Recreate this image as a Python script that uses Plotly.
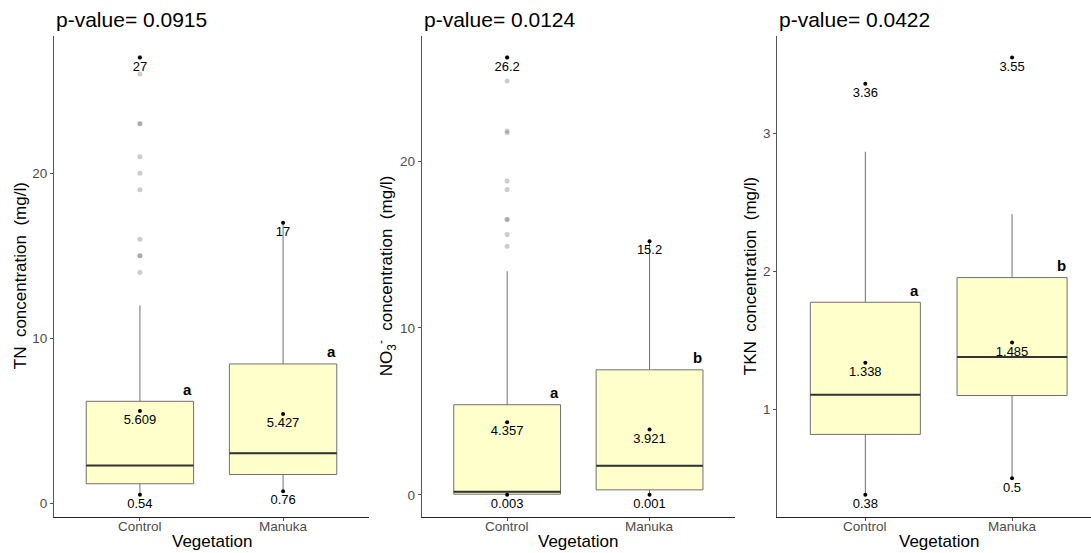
import plotly.graph_objects as go

FONT = "Liberation Sans, Arial, Helvetica, sans-serif"

categories = ["Control", "Manuka"]

# ---- Panel 1: TN ----
tn_q1 = [1.21, 1.77]
tn_median = [2.31, 3.06]
tn_q3 = [6.2, 8.46]
tn_lower = [0.54, 0.76]
tn_upper = [12.0, 17.0]
tn_mean = [5.609, 5.427]
tn_min = [0.54, 0.76]
tn_max = [27, 17]
tn_outliers_control = [27, 26, 23, 23, 21, 20, 19, 16, 15, 15, 14]
tn_outliers_manuka = []
tn_letters = ["a", "a"]
tn_p = "0.0915"

# ---- Panel 2: NO3 ----
no3_q1 = [0.04, 0.30]
no3_median = [0.18, 1.74]
no3_q3 = [5.40, 7.49]
no3_lower = [0.003, 0.001]
no3_upper = [13.4, 15.2]
no3_mean = [4.357, 3.921]
no3_min = [0.003, 0.001]
no3_max = [26.2, 15.2]
no3_outliers_control = [26.2, 24.8, 21.7, 21.8, 18.8, 18.3, 16.5, 16.5, 15.6, 14.9]
no3_outliers_manuka = []
no3_letters = ["a", "b"]
no3_p = "0.0124"

# ---- Panel 3: TKN ----
tkn_q1 = [0.818, 1.10]
tkn_median = [1.106, 1.38]
tkn_q3 = [1.776, 1.955]
tkn_lower = [0.38, 0.5]
tkn_upper = [2.867, 2.415]
tkn_mean = [1.338, 1.485]
tkn_min = [0.38, 0.5]
tkn_max = [3.36, 3.55]
tkn_outliers_control = []
tkn_outliers_manuka = []
tkn_letters = ["a", "b"]
tkn_p = "0.0422"

panels = [
    dict(q1=tn_q1, med=tn_median, q3=tn_q3, lo=tn_lower, hi=tn_upper, mean=tn_mean,
         mn=tn_min, mx=tn_max, out=[tn_outliers_control, tn_outliers_manuka],
         letters=tn_letters, p=tn_p, ytitle="TN\u00a0 concentration\u00a0 (mg/l)",
         dtick=10, xdom=[54, 369], xr=[-0.6, 1.6], ytx=20),
    dict(q1=no3_q1, med=no3_median, q3=no3_q3, lo=no3_lower, hi=no3_upper, mean=no3_mean,
         mn=no3_min, mx=no3_max, out=[no3_outliers_control, no3_outliers_manuka],
         letters=no3_letters, p=no3_p,
         ytitle="NO<sub>3</sub><sup>-</sup>\u00a0 concentration\u00a0 (mg/l)",
         dtick=10, xdom=[421.7, 735], xr=[-0.6, 1.6], ytx=386),
    dict(q1=tkn_q1, med=tkn_median, q3=tkn_q3, lo=tkn_lower, hi=tkn_upper, mean=tkn_mean,
         mn=tkn_min, mx=tkn_max, out=[tkn_outliers_control, tkn_outliers_manuka],
         letters=tkn_letters, p=tkn_p, ytitle="TKN\u00a0 concentration\u00a0 (mg/l)",
         dtick=1, xdom=[777.3, 1091], xr=[-0.6, 1.538], ytx=750),
]

W, H = 1091, 553
ytop, ybot = 35.7, 516.7
ydom = [1 - ybot / H, 1 - ytop / H]
BOXW = 0.75
pos = [0, 1]

fig = go.Figure()
annotations = []

for i, p in enumerate(panels, start=1):
    xa = "x" if i == 1 else f"x{i}"
    ya = "y" if i == 1 else f"y{i}"
    # box
    fig.add_trace(go.Box(
        x=pos, q1=p["q1"], median=p["med"], q3=p["q3"],
        lowerfence=p["lo"], upperfence=p["hi"], width=BOXW,
        fillcolor="#FFFFCC", line=dict(color="#707070", width=1),
        whiskerwidth=0, boxpoints=False, showlegend=False, hoverinfo="skip",
        xaxis=xa, yaxis=ya))
    # median lines
    mx, my = [], []
    for c, m in zip(pos, p["med"]):
        mx += [c - BOXW / 2, c + BOXW / 2, None]
        my += [m, m, None]
    fig.add_trace(go.Scatter(x=mx, y=my, mode="lines", line=dict(color="#333333", width=2),
                             showlegend=False, hoverinfo="skip", xaxis=xa, yaxis=ya))
    # outliers
    ox, oy = [], []
    for c, vals in zip(pos, p["out"]):
        ox += [c] * len(vals)
        oy += vals
    if oy:
        fig.add_trace(go.Scatter(x=ox, y=oy, mode="markers",
                                 marker=dict(color="rgba(110,110,110,0.35)", size=5, line=dict(width=0)),
                                 showlegend=False, hoverinfo="skip", xaxis=xa, yaxis=ya))
    # mean / min / max points with labels
    px_, py_, pt = [], [], []
    for c, a, b, d in zip(pos, p["mean"], p["mn"], p["mx"]):
        for v in (a, b, d):
            px_.append(c)
            py_.append(v)
            pt.append(f"{v:g}")
    fig.add_trace(go.Scatter(x=px_, y=py_, mode="markers+text", text=pt,
                             textposition="bottom center",
                             textfont=dict(family=FONT, size=13, color="black"),
                             marker=dict(color="black", size=4),
                             showlegend=False, hoverinfo="skip", xaxis=xa, yaxis=ya))
    # letters
    for c, q, L in zip(pos, p["q3"], p["letters"]):
        annotations.append(dict(x=c + 0.335, y=q, xref=xa, yref=ya, text=f"<b>{L}</b>",
                                showarrow=False, yanchor="middle", yshift=12,
                                font=dict(family=FONT, size=15, color="black")))
    # y range (ggplot style 5% expansion)
    allv = p["lo"] + p["hi"] + p["mn"] + p["mx"] + [v for o in p["out"] for v in o]
    lo, hi = min(allv), max(allv)
    pad = 0.05 * (hi - lo)
    xd = [p["xdom"][0] / W, p["xdom"][1] / W]
    axis_common = dict(showgrid=False, zeroline=False, showline=True, ticks="outside",
                       ticklen=3, tickwidth=1, tickcolor="#555555",
                       tickfont=dict(family=FONT, size=13.5, color="#4D4D4D"))
    fig.layout[f"xaxis{'' if i == 1 else i}"] = dict(
        domain=xd, range=p["xr"], tickvals=pos, ticktext=categories, showticklabels=False,
        linecolor="#222222", linewidth=1, anchor=ya, **axis_common)
    fig.layout[f"yaxis{'' if i == 1 else i}"] = dict(
        domain=ydom, range=[lo - pad, hi + pad], dtick=p["dtick"], tick0=0,
        linecolor="#555555", linewidth=1, anchor=xa, **axis_common)
    # x tick labels (placed like ggplot)
    for c, name in zip(pos, categories):
        annotations.append(dict(x=c, y=0, xref=xa, yref="paper", text=name, showarrow=False,
                                xanchor="center", yanchor="middle", yshift=(H - 526),
                                font=dict(family=FONT, size=13.5, color="#4D4D4D")))
    # title
    annotations.append(dict(x=xd[0], y=1 - 19 / H, xref="paper", yref="paper",
                            text=f"p-value= {p['p']}", showarrow=False,
                            xanchor="left", yanchor="middle",
                            font=dict(family=FONT, size=21, color="black")))
    # y title
    annotations.append(dict(x=p["ytx"] / W, y=1 - (ytop + ybot) / 2 / H, xref="paper", yref="paper",
                            text=p["ytitle"], textangle=-90, showarrow=False,
                            xanchor="center", yanchor="middle",
                            font=dict(family=FONT, size=17, color="black")))
    # x title (centered between the two categories)
    annotations.append(dict(x=0.5, y=1 - 541.5 / H, xref=xa, yref="paper",
                            text="Vegetation", showarrow=False, xanchor="center", yanchor="middle",
                            font=dict(family=FONT, size=17, color="black")))

fig.update_layout(width=W, height=H, margin=dict(l=0, r=0, t=0, b=0, pad=0),
                  plot_bgcolor="white", paper_bgcolor="white",
                  font=dict(family=FONT), annotations=annotations, showlegend=False)

fig.write_html("out.html", config={"displayModeBar": False},
               post_script="document.body.style.margin='0';document.body.style.padding='0';")
